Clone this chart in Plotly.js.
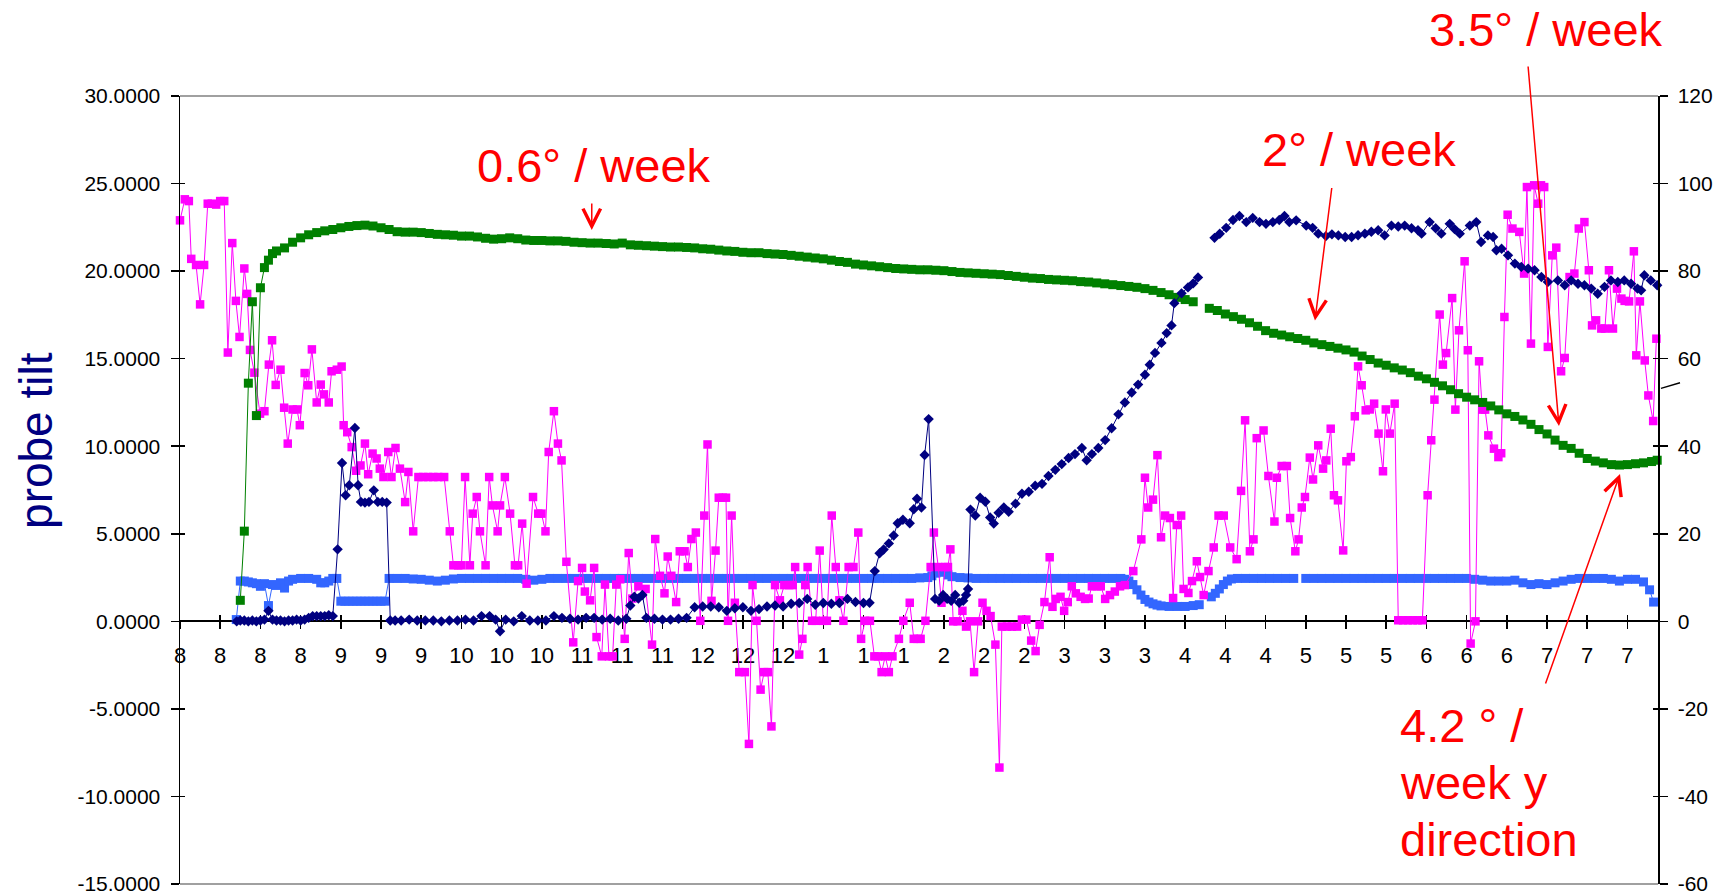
<!DOCTYPE html>
<html>
<head>
<meta charset="utf-8">
<script src="https://cdn.plot.ly/plotly-3.0.1.min.js"></script>
<style>html,body{margin:0;padding:0;background:#fff;}#chart{width:1733px;height:896px;}</style>
</head>
<body>
<div id="chart"></div>
<script>
// ---------- x axis tick labels (month of each 10-day tick, starting Aug 1) ----------
const xTickLabels = ['8','8','8','8','9','9','9','10','10','10','11','11','11','12','12','12','1','1','1','2','2','2','3','3','3','4','4','4','5','5','5','6','6','6','7','7','7'];
const leftTickValues = [-15,-10,-5,0,5,10,15,20,25,30];
const leftTickText = ['-15.0000','-10.0000','-5.0000','0.0000','5.0000','10.0000','15.0000','20.0000','25.0000','30.0000'];
const rightTickValues = [-60,-40,-20,0,20,40,60,80,100,120];
const rightTickText = ['-60','-40','-20','0','20','40','60','80','100','120'];

// ---------- green series (right axis), x = days after Aug 1 ----------
const greenDay = [15,16,17,18,19,20,21,22,23,24,26,28,30,32,34,36,38,40,42,44,46,48,50,52,54,56,58,60,62,64,66,68,70,72,74,76,78,80,82,84,86,88,90,92,94,96,98,100,102,104,106,108,110,112,114,116,118,120,122,124,126,128,130,132,134,136,138,140,142,144,146,148,150,152,154,156,158,160,162,164,166,168,170,172,174,176,178,180,182,184,186,188,190,192,194,196,198,200,202,204,206,208,210,212,214,216,218,220,222,224,226,228,230,232,234,236,238,240,242,244,246,248,250,252,254.5,256,258,260,262,264,266,268,270,272,274,276,278,280,282,284,286,288,290,292,294,296,298,300,302,304,306,308,310,312,314,316,318,320,322,324,326,328,330,332,334,336,338,340,342,344,346,348,350,352,354,356,358,360,362,364,366,367.4];
const greenVal = [4.8,20.6,54.4,73.0,47.0,76.2,80.8,82.5,84.0,84.6,85.3,86.6,87.6,88.3,88.8,89.2,89.5,89.9,90.2,90.4,90.5,90.3,89.9,89.5,89.0,88.9,88.9,88.8,88.6,88.4,88.3,88.2,88.0,88.0,87.8,87.5,87.3,87.4,87.6,87.4,87.1,87.0,87.0,86.9,86.9,86.8,86.6,86.5,86.4,86.4,86.3,86.2,86.4,86.0,85.9,85.8,85.7,85.6,85.5,85.5,85.4,85.3,85.1,85.0,84.8,84.6,84.5,84.3,84.2,84.2,84.0,83.9,83.8,83.6,83.4,83.2,83.0,82.8,82.5,82.2,82.0,81.6,81.4,81.2,81.0,80.8,80.6,80.5,80.4,80.3,80.3,80.2,80.1,79.9,79.7,79.6,79.5,79.4,79.3,79.2,79.0,78.8,78.6,78.4,78.3,78.1,78.0,77.9,77.8,77.6,77.5,77.3,77.1,76.9,76.7,76.5,76.3,76.0,75.6,75.1,74.6,74.0,73.5,73.0,null,71.5,71.0,70.2,69.6,69.0,68.2,67.4,66.4,65.8,65.4,65.0,64.6,64.2,63.6,63.2,62.8,62.4,62.0,61.5,60.6,59.8,59.0,58.5,57.9,57.4,56.8,56.0,55.4,54.6,53.8,52.9,52.0,51.2,50.6,50.0,49.2,48.3,47.4,46.8,46.0,45.0,43.8,42.8,41.4,40.2,39.5,38.4,37.2,36.6,36.2,35.8,35.7,35.8,36.0,36.2,36.5,36.8];

// ---------- light blue series (left axis) ----------
const blueDay = [14,15,16,17,18,19,20,21,22,23,24,25,26,27,28,30,32,34,35,36,37,38,39,40,41,42,43,44,45,46,47,48,49,50,51,52,54,56,58,60,62,64,66,68,70,72,74,76,78,80,82,84,86,88,90,92,94,96,98,100,102,104,106,108,110,112,114,116,118,120,122,124,126,128,130,132,134,136,138,140,142,144,146,148,150,152,154,156,158,160,162,164,166,168,170,172,174,176,178,180,182,184,186,187,188,189,190,191,192,194,196,198,200,202,204,206,208,210,212,214,216,218,220,222,224,226,228,230,232,234,235,236,237,238,239,240,241,242,243,244,246,248,250,252,253.5,255,256.5,257.5,258.5,259.5,260.5,261.5,263,265,267,269,271,273,275,277,278.6,280,282,284,286,288,290,292,294,296,298,300,302,304,306,308,310,312,314,316,318,320,322,324,326,328,330,332,334,336,338,340,342,344,346,348,350,352,354,356,358,360,362,364,365.5,366.5];
const blueVal = [0.1,2.3,2.3,2.25,2.2,2.15,2.0,2.15,0.9,2.1,2.05,2.2,1.9,2.3,2.4,2.45,2.45,2.4,2.2,2.2,2.3,2.45,2.45,1.15,1.15,1.15,1.15,1.15,1.15,1.15,1.15,1.15,1.15,1.15,1.15,2.45,2.45,2.45,2.42,2.4,2.35,2.3,2.35,2.42,2.45,2.45,2.45,2.45,2.45,2.45,2.45,2.45,2.4,2.35,2.4,2.45,2.45,2.45,2.45,2.45,2.45,2.45,2.45,2.45,2.45,2.45,2.45,2.45,2.45,2.45,2.45,2.45,2.45,2.45,2.45,2.45,2.45,2.45,2.45,2.45,2.45,2.45,2.45,2.45,2.45,2.45,2.45,2.45,2.45,2.45,2.45,2.45,2.45,2.45,2.45,2.45,2.45,2.45,2.45,2.45,2.45,2.48,2.5,2.6,2.75,2.85,2.8,2.65,2.55,2.5,2.48,2.45,2.45,2.45,2.45,2.45,2.45,2.45,2.45,2.45,2.45,2.45,2.45,2.45,2.45,2.45,2.45,2.45,2.45,2.45,2.4,2.3,2.1,1.8,1.5,1.25,1.1,1.0,0.93,0.88,0.85,0.85,0.85,0.9,0.95,null,1.4,1.6,1.85,2.1,2.3,2.42,2.45,2.45,2.45,2.45,2.45,2.45,2.45,2.45,null,2.45,2.45,2.45,2.45,2.45,2.45,2.45,2.45,2.45,2.45,2.45,2.45,2.45,2.45,2.45,2.45,2.45,2.45,2.45,2.45,2.45,2.4,2.35,2.3,2.3,2.3,2.35,2.2,2.1,2.15,2.1,2.2,2.3,2.4,2.45,2.45,2.45,2.45,2.4,2.3,2.4,2.4,2.25,1.8,1.1];

// ---------- magenta series (left axis) ----------
const pinkDay = [0,1.2,2.2,2.8,4.0,5.0,6.0,6.9,7.9,9.0,10.0,11.0,11.9,13.0,13.9,14.8,16.0,16.7,17.4,18.5,19.9,21.0,22.1,22.9,23.8,25.0,25.9,26.8,28.0,29.1,29.8,31.0,31.9,32.8,34.0,35.0,35.8,37.0,37.7,39.0,40.2,40.7,41.6,42.7,43.8,44.9,46.0,46.8,47.9,48.9,49.7,50.6,51.8,52.6,53.6,54.7,56.0,56.8,58.0,59.3,60.5,61.7,63.0,64.2,65.7,67.1,68.0,69.2,70.0,70.9,72.1,72.8,73.8,74.6,76.0,76.9,77.7,79.0,79.6,80.8,82.1,83.3,84.1,85.1,86.2,87.8,89.1,89.9,90.9,91.7,93.0,94.0,94.9,96.1,97.8,99.0,100.0,100.7,102.0,103.0,103.6,104.9,105.7,106.7,107.6,108.5,109.5,110.6,111.6,112.5,114.0,115.8,117.4,118.2,119.4,120.5,121.3,122.2,123.4,124.3,125.5,126.3,127.2,128.3,129.4,130.4,131.2,132.2,133.2,134.0,135.0,135.8,136.3,137.2,138.0,139.1,140.5,141.5,142.4,143.4,144.4,145.3,146.2,147.1,148.0,149.2,150.3,151.5,152.4,153.0,154.0,154.8,155.5,156.1,157.2,158.1,159.1,160.0,160.9,162.1,163.1,164.0,165.0,166.3,167.5,168.7,169.4,170.4,171.6,172.7,173.6,174.5,175.4,176.3,177.2,178.8,179.9,181.5,182.5,183.4,184.2,185.4,186.7,187.5,188.6,189.4,190.3,191.0,191.6,192.3,193.4,194.6,195.5,196.5,197.5,198.5,199.6,200.6,201.6,202.8,203.8,204.4,205.7,206.9,208.2,209.4,210.5,211.7,212.8,213.8,215.0,216.3,217.0,217.8,219.0,219.9,220.8,221.8,222.8,224.0,225.1,226.0,226.8,228.0,229.0,230.1,231.3,232.5,233.8,235.0,237.1,239.1,240.0,240.8,242.0,243.1,244.0,245.0,246.2,247.0,247.9,249.0,249.6,250.8,251.7,252.9,253.7,254.6,255.8,257.1,258.3,259.6,261.2,262.8,263.9,264.9,266.1,267.0,267.8,269.5,270.7,272.2,272.8,274.0,275.3,276.1,277.4,278.2,279.0,279.8,281.0,281.8,283.1,284.3,285.1,286.2,287.0,288.0,289.3,290.1,291.2,292.2,293.0,293.9,294.9,295.9,297.0,298.1,299.2,299.9,300.9,302.1,303.0,304.2,305.4,306.6,307.8,309.0,310.3,311.2,312.0,313.3,314.1,314.9,316.4,317.2,318.1,319.5,320.3,321.0,322.2,323.1,323.9,324.6,325.4,326.8,327.9,328.6,329.4,330.2,331.4,333.1,334.3,335.0,336.0,336.8,337.8,338.5,339.3,340.2,341.3,342.3,343.5,344.4,345.6,346.8,347.9,349.3,350.4,351.2,352.2,353.5,354.4,355.4,356.4,357.4,358.5,359.3,360.4,361.6,362.2,363.1,364.3,365.2,366.4,367.2];
const pinkVal = [22.9,24.1,24.0,20.7,20.35,18.1,20.35,23.85,23.85,23.8,24.0,24.0,15.35,21.6,18.3,16.24,20.15,18.7,15.5,14.2,11.86,12.0,14.66,16.05,13.5,14.37,12.2,10.15,12.1,12.1,11.2,14.18,13.48,15.53,12.5,13.52,12.96,12.5,14.28,14.37,14.55,11.2,10.8,9.95,8.6,8.9,10.15,8.4,9.58,9.3,8.72,8.24,9.67,8.24,9.9,8.72,6.81,8.53,5.14,8.24,8.24,8.24,8.24,8.24,8.24,5.14,3.2,3.2,3.2,8.24,3.2,6.15,7.1,5.14,3.2,8.24,6.62,5.14,6.62,8.24,6.15,3.2,3.2,5.58,2.15,7.1,6.15,6.15,5.14,9.67,12.0,10.15,9.19,3.4,-1.2,2.3,3.05,1.7,1.2,3.05,-0.9,-2.0,2.1,-2.0,-2.0,2.1,2.4,-1.0,3.9,1.3,2.0,1.85,-1.33,4.7,2.6,1.6,3.7,2.6,1.1,4.0,4.0,3.1,4.7,5.07,0.03,6.04,10.1,1.17,4.04,7.06,7.06,7.06,0.03,6.04,1.06,-2.9,-2.9,-7.0,2.07,0.03,-3.9,-2.9,-2.9,-6.0,2.07,1.2,2.07,2.07,2.07,3.1,-1.9,-1.0,2.07,3.1,0.03,0.03,4.04,0.03,0.03,6.04,3.1,1.2,0.03,3.1,3.1,5.07,-1.0,0.03,0.03,-2.0,-2.0,-2.9,-2.0,-2.9,-2.0,-1.0,0.03,1.06,-1.0,-1.0,-1.0,0.03,3.1,5.07,3.1,1.06,3.1,3.1,4.11,0,0,0.6,-0.3,0,-2.9,0,1.06,0.6,0.3,-1.33,-8.35,-0.3,-0.3,-0.3,-0.3,0.1,0.1,-1.1,-1.7,-0.2,1.1,3.66,0.83,1.28,1.4,0.6,1.1,2.0,1.6,1.4,1.28,1.3,2.0,2.0,2.0,1.28,1.5,1.7,2.0,2.07,2.87,4.68,8.2,6.5,6.95,9.49,4.8,6.04,5.9,1.33,5.5,6.04,1.85,1.62,2.3,3.43,2.53,1.5,2.87,4.22,6.04,6.04,4.22,3.55,7.45,11.48,4.0,4.68,10.46,10.9,8.3,5.7,8.2,8.87,8.87,5.9,4.0,4.68,6.5,7.1,9.35,8.1,10.05,8.72,9.19,11.0,7.2,6.91,4.05,9.14,9.38,11.71,14.56,13.48,12.05,12.1,12.43,10.72,8.57,12.1,10.72,12.43,0.06,0.06,0.06,0.06,0.06,0.06,7.2,10.34,12.66,17.52,14.66,15.32,18.46,12.09,16.62,20.56,15.48,-1.27,0.0,14.85,12.09,12.09,10.62,9.86,9.38,9.6,17.38,23.22,22.43,22.24,19.86,24.8,15.86,24.9,23.85,24.9,24.8,15.67,20.9,21.34,14.28,15.04,19.66,19.86,22.43,22.8,20.05,16.9,17.19,16.72,16.72,20.05,16.72,19.0,18.43,18.3,18.27,21.13,15.19,18.27,14.9,12.9,11.44,16.14];

// ---------- navy series (left axis scale) ----------
const navyDay = [14.1,15,16,17,18,19,20,21,22,23,24,25,26,27,28,29,30,31,32,33,34,35,36,37,38,39.2,40.3,41.2,42.1,43.5,44.3,45.0,46.0,47.0,48.2,49.2,50.3,51.4,52.3,53.5,55,57,59,61,63,65,67,69,71,73,75,77,78.5,79.6,81,83,85,87,89,91,93,95,97,99,101,103,105,107,109,111,112,113,114,115,116,118,120,122,124,126,128,130,132,134,136,138,140,142,144,146,148,150,152,154,156,158,160,162,164,166,168,170,171.5,172.8,174,175,176.3,177.5,178.5,179.8,181.5,182.5,183.3,184.4,185.2,186.2,187.8,188.8,189.8,190.8,191.8,192.8,193.8,194.8,195.5,196.0,196.6,197.8,199.0,200.3,201.5,202.4,203.6,204.9,206.1,207.8,209.4,211.1,212.7,214.4,216.0,217.7,219.3,221.0,222.6,224.3,225.5,226.8,228.4,230.1,231.7,233.4,235.0,236.7,238.3,240.0,241.2,242.5,244.1,245.4,246.6,247.3,249.1,250.7,252.0,253.2,255,257.3,258.6,260.2,261.9,263.5,265.2,266.8,268.5,270.1,271.8,273.4,274.7,275.9,277.6,280.1,281.7,283.1,285.0,286.5,288.1,289.8,291.4,293.0,294.7,296.3,298.0,299.6,301.3,303.0,304.6,306.3,307.9,308.8,310.8,312.3,313.7,315.8,317.0,318.3,320.8,322.4,323.6,325.3,326.6,327.4,328.7,330.3,332.0,333.6,335.3,336.9,338.6,340.2,342.7,344.4,346.0,347.7,349.3,351.0,352.6,354.3,355.9,357.6,359.2,360.9,362.5,363.4,364.2,365.8,367.4];
const navyVal = [0.0,0.05,0.05,0.0,0.05,0.0,0.05,0.1,0.6,0.1,0.05,0.05,0.0,0.05,0.05,0.1,0.05,0.1,0.2,0.3,0.3,0.3,0.3,0.35,0.3,4.11,9.04,7.2,7.77,11.04,7.77,6.82,6.78,6.82,7.48,6.82,6.82,6.78,0.05,0.05,0.05,0.1,0.05,0.05,0.05,0.0,0.05,0.05,0.1,0.05,0.3,0.3,0.1,-0.57,0.1,0.0,0.3,0.05,0.05,0.05,0.3,0.2,0.15,0.1,0.2,0.2,0.1,0.15,0.05,0.15,0.9,1.4,1.3,1.5,0.2,0.15,0.1,0.1,0.15,0.2,0.8,0.85,0.85,0.8,0.6,0.75,0.8,0.6,0.7,0.85,0.9,0.85,1.0,1.05,1.28,0.95,1.05,1.0,1.05,1.28,1.1,1.05,1.06,2.87,3.89,4.1,4.45,4.9,5.6,5.8,5.6,6.4,7.0,6.5,9.5,11.55,1.28,1.17,1.5,1.28,1.17,1.5,1.06,1.17,1.5,1.85,6.38,6.04,7.06,6.83,5.93,5.58,6.2,6.5,6.26,6.72,7.29,7.4,7.74,7.85,8.3,8.65,8.98,9.33,9.55,9.9,9.2,9.55,9.9,10.35,11.03,11.82,12.5,13.07,13.52,14.08,14.65,15.33,15.9,16.46,16.9,18.17,18.73,19.07,19.3,19.64,null,21.9,22.13,22.47,22.92,23.15,22.8,23.04,22.8,22.7,22.8,22.92,23.15,22.8,22.9,22.6,22.47,22.14,22.0,22.1,22.04,21.95,21.95,22.05,22.14,22.25,22.33,22.04,22.6,22.55,22.6,22.45,22.33,22.14,22.8,22.45,22.14,22.7,22.4,22.14,22.6,22.8,21.66,22.04,21.95,21.19,21.28,20.9,20.43,20.24,20.14,20.05,19.66,19.38,19.47,19.19,19.47,19.28,19.19,19.0,18.71,19.1,19.47,19.38,19.47,19.28,19.0,18.9,19.76,19.47,19.19];

// ---------- annotation texts ----------
const rateTexts = ['0.6° / week', '2° / week', '3.5° / week'];
const yDirLines = ['4.2 ° /', 'week y', 'direction'];
const yTitle = 'probe tilt';

const FONT = 'Liberation Sans, Arial, Helvetica, sans-serif';
const XR = [0, 367.6];
const tickVals = xTickLabels.map((_, i) => i * 10);

function series(x, y, color, symbol, size, xa, ya) {
  return {
    type: 'scatter', mode: 'lines+markers', x: x, y: y, xaxis: xa, yaxis: ya,
    line: {color: color, width: 1}, marker: {symbol: symbol, size: size, color: color},
    connectgaps: false, cliponaxis: false, hoverinfo: 'x+y', showlegend: false
  };
}

const traces = [
  series(blueDay, blueVal, '#3366FF', 'square', 9, 'x', 'y'),
  series(pinkDay, pinkVal, '#FF00FF', 'square', 8.5, 'x', 'y'),
  series(greenDay, greenVal, '#008000', 'square', 9, 'x', 'y2'),
  series(navyDay, navyVal, '#000080', 'diamond', 8, 'x', 'y3'),
  {type: 'scatter', x: [], y: [], xaxis: 'x2', yaxis: 'y4', showlegend: false, hoverinfo: 'skip'}
];

const redFont = {family: FONT, size: 47, color: '#FF0000'};
function arrow(x, y, ax, ay) {
  return {xref: 'paper', yref: 'paper', x: x, y: y, ax: ax, ay: ay, text: '', showarrow: true,
          arrowhead: 5, arrowsize: 2.3, arrowwidth: 1.5, arrowcolor: '#FF0000'};
}

const layout = {
  width: 1733, height: 896,
  margin: {l: 180, r: 75, t: 96, b: 12, pad: 0},
  paper_bgcolor: '#ffffff', plot_bgcolor: '#ffffff',
  showlegend: false,
  font: {family: FONT, color: '#000000'},
  xaxis: {range: XR, tickmode: 'array', tickvals: tickVals, ticktext: xTickLabels,
          anchor: 'free', position: 1/3, showline: true, linecolor: '#000000', linewidth: 2,
          ticks: 'outside', ticklen: 7, tickwidth: 1.5, tickcolor: '#000000',
          showgrid: false, zeroline: false, tickfont: {size: 22, family: FONT}, ticklabelstandoff: 7,
          layer: 'below traces'},
  xaxis2: {range: XR, overlaying: 'x', tickmode: 'array', tickvals: tickVals,
           anchor: 'free', position: 1/3, showline: false, ticks: 'inside', ticklen: 6, tickwidth: 1.5,
           tickcolor: '#000000', showticklabels: false, showgrid: false, zeroline: false, layer: 'below traces'},
  yaxis: {range: [-15, 30], tickmode: 'array', tickvals: leftTickValues, ticktext: leftTickText,
          showline: true, linecolor: '#000000', linewidth: 1.5, ticks: 'outside', ticklen: 8, tickwidth: 1.5,
          tickcolor: '#000000', showgrid: false, zeroline: false, tickfont: {size: 21, family: FONT},
          ticklabelstandoff: 6},
  yaxis2: {range: [-60, 120], overlaying: 'y', side: 'right', anchor: 'x', tickmode: 'array',
           tickvals: rightTickValues, ticktext: rightTickText, showline: true, linecolor: '#000000',
           linewidth: 1.5, ticks: 'outside', ticklen: 8, tickwidth: 1.5, tickcolor: '#000000',
           showgrid: false, zeroline: false, tickfont: {size: 21, family: FONT}, ticklabelstandoff: 6},
  yaxis3: {range: [-15, 30], overlaying: 'y', side: 'left', anchor: 'x', tickmode: 'array',
           tickvals: leftTickValues, showline: false, ticks: 'inside', ticklen: 5, tickwidth: 1.5,
           tickcolor: '#000000', showticklabels: false, showgrid: false, zeroline: false},
  yaxis4: {range: [-60, 120], overlaying: 'y', side: 'right', anchor: 'x', tickmode: 'array',
           tickvals: rightTickValues, showline: false, ticks: 'inside', ticklen: 5, tickwidth: 1.5,
           tickcolor: '#000000', showticklabels: false, showgrid: false, zeroline: false},
  shapes: [
    {type: 'line', xref: 'paper', yref: 'paper', x0: 0, x1: 1, y0: 1, y1: 1, line: {color: '#808080', width: 1.5}},
    {type: 'line', xref: 'paper', yref: 'paper', x0: 0, x1: 1, y0: 0, y1: 0, line: {color: '#808080', width: 1.5}},
    {type: 'line', xref: 'paper', yref: 'paper', x0: 1.002, y0: 0.629, x1: 1.0149, y1: 0.636, line: {color: '#000000', width: 1.5}}
  ],
  annotations: [
    {xref: 'paper', yref: 'paper', x: 0.2799, y: 0.9121, xanchor: 'center', yanchor: 'middle', text: rateTexts[0], showarrow: false, font: redFont},
    {xref: 'paper', yref: 'paper', x: 0.7978, y: 0.9315, xanchor: 'center', yanchor: 'middle', text: rateTexts[1], showarrow: false, font: redFont},
    {xref: 'paper', yref: 'paper', x: 0.9241, y: 1.0838, xanchor: 'center', yanchor: 'middle', text: rateTexts[2], showarrow: false, font: redFont},
    {xref: 'paper', yref: 'paper', x: 0.8241, y: 0.2010, xanchor: 'left', yanchor: 'middle', text: yDirLines[0], showarrow: false, font: redFont},
    {xref: 'paper', yref: 'paper', x: 0.8241, y: 0.1294, xanchor: 'left', yanchor: 'middle', text: yDirLines[1], showarrow: false, font: redFont},
    {xref: 'paper', yref: 'paper', x: 0.8241, y: 0.0571, xanchor: 'left', yanchor: 'middle', text: yDirLines[2], showarrow: false, font: redFont},
    {xref: 'paper', yref: 'paper', x: -0.0974, y: 0.5623, xanchor: 'center', yanchor: 'middle', text: yTitle, textangle: -90, showarrow: false,
     font: {family: FONT, size: 46, color: '#000080'}},
    arrow(0.2786, 0.8299, 0, -28),
    arrow(0.7679, 0.7151, 17, -134),
    arrow(0.9330, 0.5812, -31, -361),
    arrow(0.9743, 0.5203, -75, 211)
  ]
};

Plotly.newPlot('chart', traces, layout, {displayModeBar: false, staticPlot: true});
</script>
</body>
</html>
